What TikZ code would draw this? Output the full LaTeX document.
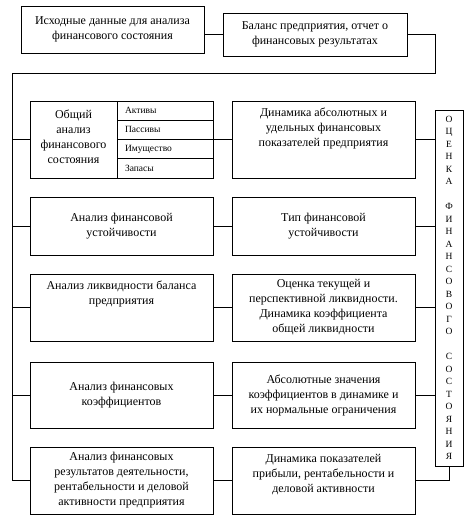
\documentclass[tikz,border=0pt]{standalone}
\usepackage{fontspec}
\setmainfont{Liberation Serif}
\usetikzlibrary{positioning}
\tikzset{
  blockbox/.style={draw=black,line width=0.8pt,align=center,inner sep=2pt,
    font=\fontsize{12}{15}\selectfont},
  wideblock/.style={blockbox,minimum width=183pt},
  cellbox/.style={draw=black,line width=0.8pt,text width=80pt,align=left,
    inner xsep=8pt,inner ysep=0pt,outer sep=0pt,minimum height=19.25pt,
    font=\fontsize{9.5}{11}\selectfont},
  blocktext/.style={align=center,inner sep=0pt,font=\fontsize{12}{15}\selectfont},
  linkline/.style={draw=black,line width=0.8pt},
}

\begin{document}
\begin{tikzpicture}[x=1pt,y=-1pt]
  \useasboundingbox (0,0) rectangle (469,519);
  % top row
  \node[blockbox,minimum width=183pt,minimum height=47pt] (src) at (112.5,29.5)
    {Исходные данные для анализа\\финансового состояния};
  \node[blockbox,minimum width=184pt,minimum height=43pt] (bal) at (315,34.5)
    {Баланс предприятия, отчет о\\финансовых результатах};
  \coordinate (tr) at (435,73);
  \coordinate (tl) at (12,73);

  % row 1
  \node[wideblock,minimum height=77pt,outer sep=0pt] (gen) at (121.5,139.5) {};
  \node[blocktext] (gentxt) at (73.5,137)
    {Общий\\анализ\\финансового\\состояния};
  \node[cellbox,below left=0pt of gen.north east] (act) {Активы};
  \node[cellbox,below=0pt of act] (pas) {Пассивы};
  \node[cellbox,below=0pt of pas] (imu) {Имущество};
  \node[cellbox,below=0pt of imu] (zap) {Запасы};
  \node[wideblock,minimum height=77pt] (dyn) at (323.5,139.5) {};
  \node[blocktext,below=7pt of dyn.north] (dyntxt)
    {Динамика абсолютных и\\удельных финансовых\\показателей предприятия};

  % row 2
  \node[wideblock,minimum height=58pt] (ust) at (121.5,226)
    {Анализ финансовой\\устойчивости};
  \node[wideblock,minimum height=58pt] (tip) at (323.5,226)
    {Тип финансовой\\устойчивости};

  % row 3
  \node[wideblock,minimum height=67pt] (liq) at (121.5,307.5) {};
  \node[blocktext,below=7pt of liq.north] (liqtxt)
    {Анализ ликвидности баланса\\предприятия};
  \node[wideblock,minimum height=67pt] (ocl) at (323.5,307.5)
    {Оценка текущей и\\перспективной ликвидности.\\Динамика коэффициента\\общей ликвидности};

  % row 4
  \node[wideblock,minimum height=66pt] (kof) at (121.5,395)
    {Анализ финансовых\\коэффициентов};
  \node[wideblock,minimum height=66pt] (abs) at (323.5,395)
    {Абсолютные значения\\коэффициентов в динамике и\\их нормальные ограничения};

  % row 5
  \node[wideblock,minimum height=67pt] (res) at (121.5,480.5)
    {Анализ финансовых\\результатов деятельности,\\рентабельности и деловой\\активности предприятия};
  \node[wideblock,minimum height=67pt] (prf) at (323.5,480.5) {};
  \node[blocktext,below=7pt of prf.north] (prftxt)
    {Динамика показателей\\прибыли, рентабельности и\\деловой активности};

  % vertical summary box
  \node[draw=black,line width=0.8pt,minimum width=28pt,minimum height=356pt,
        inner sep=0pt,align=center,font=\fontsize{9.5}{12.5}\selectfont]
        (ocen) at (449,288)
    {О\\Ц\\Е\\Н\\К\\А\\[12.5pt]Ф\\И\\Н\\А\\Н\\С\\О\\В\\О\\Г\\О\\[12.5pt]С\\О\\С\\Т\\О\\Я\\Н\\И\\Я};

  % connectors
  \draw[linkline] (src.east |- bal.west) -- (bal.west);
  \draw[linkline] (bal.east) -| (tr) -- (tl) |- (res.west);
  \foreach \lft/\rgt in {gen/dyn,ust/tip,liq/ocl,kof/abs,res/prf}{
    \draw[linkline] (\lft.east) -- (\rgt.west);
  }
  \foreach \lft in {gen,ust,liq,kof}{
    \draw[linkline] (tl |- \lft.west) -- (\lft.west);
  }
  \foreach \rgt in {dyn,tip,ocl,abs}{
    \draw[linkline] (\rgt.east) -- (\rgt.east -| ocen.west);
  }
  \draw[linkline] (prf.east) -| (ocen.south);
\end{tikzpicture}
\end{document}
